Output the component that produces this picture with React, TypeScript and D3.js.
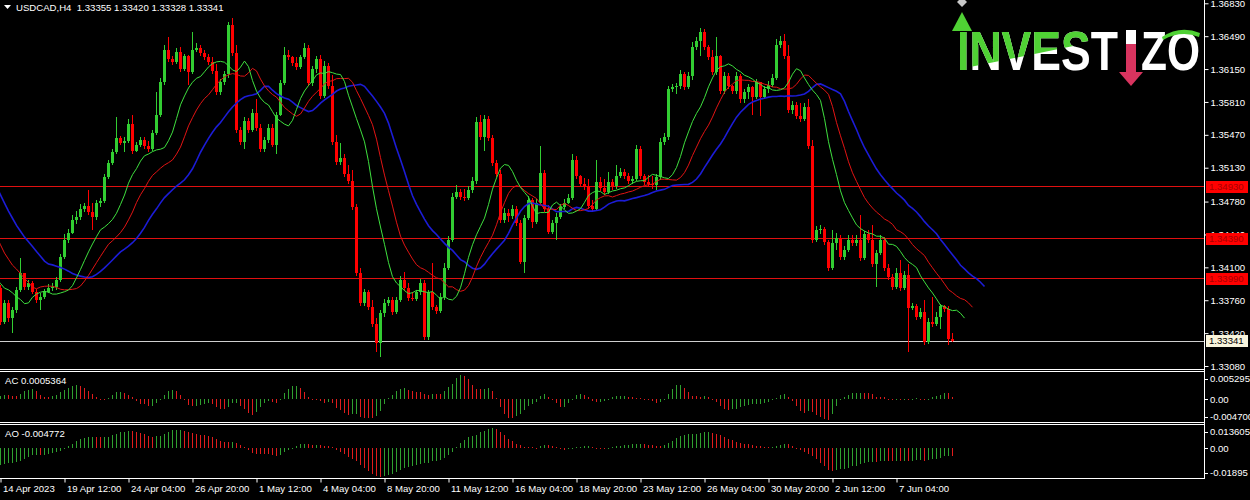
import React, { useEffect, useRef } from "react";
import * as d3 from "d3";

const symbol = "USDCAD,H4";

// H4 candles, left to right (open of a bar = close of the bar before it)
const firstOpen = 1.3389;
const closes = [
  1.3354, 1.3373, 1.3358, 1.3366, 1.3387, 1.3404, 1.339, 1.3394, 1.3385, 1.3376,
  1.3379, 1.3385, 1.3389, 1.339, 1.3397, 1.3421, 1.3438, 1.3446, 1.3459, 1.3462,
  1.347, 1.3473, 1.3467, 1.3462, 1.3477, 1.3479, 1.3503, 1.3518, 1.3529, 1.3544,
  1.3539, 1.3541, 1.3558, 1.353, 1.3537, 1.3542, 1.3535, 1.3532, 1.3549, 1.3568,
  1.3602, 1.3635, 1.3625, 1.3622, 1.3633, 1.3615, 1.3628, 1.3612, 1.3635, 1.3637,
  1.3632, 1.3627, 1.3622, 1.3613, 1.3591, 1.3602, 1.361, 1.3661, 1.3632, 1.3552,
  1.354, 1.3561, 1.3552, 1.357, 1.3554, 1.3532, 1.3542, 1.3554, 1.3537, 1.3568,
  1.3601, 1.363, 1.3627, 1.3621, 1.3617, 1.3627, 1.3637, 1.3601, 1.3615, 1.3625,
  1.3587, 1.3618, 1.3597, 1.354, 1.3519, 1.3523, 1.3506, 1.3499, 1.3472, 1.3404,
  1.3373, 1.3384, 1.3369, 1.3351, 1.3332, 1.3363, 1.3373, 1.3376, 1.3364, 1.3376,
  1.3397, 1.3389, 1.3378, 1.3377, 1.3384, 1.3394, 1.3338, 1.3384, 1.3369, 1.3365,
  1.3379, 1.3409, 1.3438, 1.3483, 1.3488, 1.3483, 1.3482, 1.349, 1.3499, 1.356,
  1.3545, 1.3563, 1.3544, 1.3518, 1.3506, 1.3459, 1.3466, 1.3463, 1.347, 1.3456,
  1.3416, 1.3461, 1.348, 1.3457, 1.3477, 1.3508, 1.347, 1.3447, 1.3456, 1.3462,
  1.3472, 1.3477, 1.3482, 1.3521, 1.3504, 1.3496, 1.3494, 1.3473, 1.347, 1.3498,
  1.3492, 1.3488, 1.3498, 1.3494, 1.3504, 1.3509, 1.3504, 1.3499, 1.3501, 1.3532,
  1.3504, 1.3498, 1.3496, 1.3495, 1.3503, 1.354, 1.3545, 1.3594, 1.3596, 1.3597,
  1.361, 1.3596, 1.3608, 1.3638, 1.3644, 1.3653, 1.3638, 1.3627, 1.3612, 1.3628,
  1.3592, 1.3608, 1.3597, 1.3592, 1.3608, 1.3584, 1.3591, 1.3596, 1.3586, 1.3602,
  1.3586, 1.3594, 1.3599, 1.3606, 1.364, 1.3644, 1.3628, 1.3573, 1.3578, 1.3566,
  1.3563, 1.3576, 1.3535, 1.3438, 1.3449, 1.345, 1.3436, 1.3409, 1.3435, 1.344,
  1.3421, 1.3428, 1.3438, 1.3435, 1.3438, 1.342, 1.3444, 1.3438, 1.3413, 1.3425,
  1.3438, 1.3409, 1.34, 1.339, 1.3404, 1.3389, 1.3402, 1.3368, 1.337, 1.3359,
  1.3364, 1.3333, 1.3354, 1.3351, 1.3359, 1.337, 1.3367, 1.33355, 1.33341,
];
const highs = [
  1.3392, 1.3376, 1.3376, 1.3369, 1.339, 1.342, 1.3401, 1.3397, 1.3396, 1.3388,
  1.3383, 1.3388, 1.3393, 1.3394, 1.34, 1.3424, 1.3444, 1.345, 1.3464, 1.3468,
  1.3475, 1.3477, 1.349, 1.3477, 1.348, 1.3482, 1.3506, 1.3521, 1.3532, 1.3565,
  1.3546, 1.3545, 1.3563, 1.3568, 1.354, 1.3545, 1.3545, 1.3541, 1.3552, 1.3591,
  1.3606, 1.364, 1.3648, 1.3629, 1.3637, 1.3638, 1.3631, 1.363, 1.3653, 1.3642,
  1.364, 1.3635, 1.3631, 1.3627, 1.362, 1.3605, 1.3613, 1.3664, 1.3668, 1.364,
  1.3555, 1.3565, 1.3564, 1.3574, 1.3584, 1.3558, 1.3545, 1.3558, 1.3558, 1.3571,
  1.3604, 1.3638, 1.3635, 1.3629, 1.3627, 1.363, 1.3642, 1.364, 1.3618, 1.3629,
  1.363, 1.3623, 1.3621, 1.3609, 1.3547, 1.3539, 1.3527, 1.3516, 1.3511, 1.3475,
  1.3409, 1.3388, 1.3387, 1.3376, 1.3358, 1.3366, 1.3377, 1.3379, 1.3379, 1.3379,
  1.3401, 1.3405, 1.3394, 1.3385, 1.3387, 1.3398, 1.3397, 1.3387, 1.3414, 1.3371,
  1.3383, 1.3414, 1.3442, 1.3487, 1.3495, 1.3491, 1.3491, 1.3494, 1.3503, 1.3565,
  1.3568, 1.3567, 1.3566, 1.3547, 1.3521, 1.3511, 1.3471, 1.347, 1.3474, 1.3473,
  1.3459, 1.3464, 1.3484, 1.3482, 1.3481, 1.3535, 1.3511, 1.3474, 1.3459, 1.3466,
  1.3476, 1.3481, 1.3486, 1.3527, 1.3525, 1.3505, 1.3502, 1.3501, 1.348, 1.3521,
  1.3503, 1.3501, 1.3509, 1.3501, 1.3516, 1.3513, 1.3512, 1.3508, 1.3504, 1.3536,
  1.3535, 1.3507, 1.3505, 1.3504, 1.3507, 1.3544, 1.3549, 1.3598, 1.36, 1.3601,
  1.3614, 1.3612, 1.3612, 1.3643, 1.3648, 1.3657, 1.3656, 1.364, 1.3635, 1.3648,
  1.363, 1.3612, 1.3611, 1.3599, 1.3612, 1.361, 1.3594, 1.36, 1.3598, 1.3605,
  1.3602, 1.3598, 1.3603, 1.361, 1.3646, 1.3649, 1.3651, 1.364, 1.3582, 1.3581,
  1.358, 1.358, 1.3584, 1.3542, 1.3453, 1.3454, 1.3452, 1.3438, 1.3449, 1.3445,
  1.3443, 1.3432, 1.3443, 1.3443, 1.3443, 1.3464, 1.3448, 1.3449, 1.3454, 1.3428,
  1.3443, 1.3441, 1.3413, 1.3403, 1.3409, 1.3418, 1.3406, 1.3413, 1.3373, 1.3372,
  1.3368, 1.3376, 1.3358, 1.3379, 1.3364, 1.3372, 1.3371, 1.337, 1.3342,
];
const lows = [
  1.335, 1.3351, 1.3354, 1.3342, 1.3363, 1.3385, 1.3387, 1.3387, 1.3382, 1.3373,
  1.3366, 1.3377, 1.3383, 1.3386, 1.3387, 1.3395, 1.3419, 1.3435, 1.3444, 1.3455,
  1.3459, 1.3467, 1.3464, 1.3449, 1.3459, 1.3472, 1.3477, 1.3501, 1.3516, 1.3527,
  1.3536, 1.3529, 1.3539, 1.3527, 1.3529, 1.3534, 1.3532, 1.3529, 1.353, 1.3547,
  1.3565, 1.3599, 1.3622, 1.3619, 1.362, 1.3612, 1.3613, 1.3599, 1.361, 1.3633,
  1.3629, 1.3624, 1.3619, 1.361, 1.3588, 1.3588, 1.3599, 1.3606, 1.3629, 1.3549,
  1.3536, 1.3532, 1.3549, 1.355, 1.3551, 1.3529, 1.3529, 1.3539, 1.3534, 1.3527,
  1.3566, 1.3599, 1.3624, 1.3618, 1.3614, 1.3615, 1.3625, 1.3598, 1.3598, 1.3611,
  1.3584, 1.3585, 1.3594, 1.3537, 1.3516, 1.3516, 1.3503, 1.3496, 1.3469, 1.3401,
  1.337, 1.337, 1.3366, 1.3348, 1.3322, 1.3317, 1.3359, 1.337, 1.3361, 1.3362,
  1.3374, 1.3386, 1.3375, 1.3375, 1.3375, 1.3381, 1.3335, 1.3335, 1.3366, 1.3362,
  1.3363, 1.3376, 1.3407, 1.3436, 1.3481, 1.348, 1.3479, 1.348, 1.3487, 1.3496,
  1.3542, 1.353, 1.3541, 1.3515, 1.3503, 1.3456, 1.3456, 1.3457, 1.346, 1.3453,
  1.3413, 1.3404, 1.3459, 1.3451, 1.3455, 1.3475, 1.3467, 1.3444, 1.3444, 1.3438,
  1.346, 1.347, 1.3475, 1.348, 1.3501, 1.3493, 1.349, 1.347, 1.3467, 1.3468,
  1.3489, 1.3485, 1.3486, 1.349, 1.3491, 1.3502, 1.3501, 1.3496, 1.3496, 1.3499,
  1.3501, 1.3495, 1.3493, 1.3491, 1.349, 1.35, 1.3537, 1.3542, 1.3591, 1.3589,
  1.3594, 1.3593, 1.3594, 1.3604, 1.3635, 1.3628, 1.3635, 1.3624, 1.3609, 1.3609,
  1.3589, 1.3589, 1.3594, 1.3589, 1.3589, 1.358, 1.358, 1.3584, 1.3568, 1.3584,
  1.3566, 1.3584, 1.359, 1.3596, 1.3604, 1.3637, 1.3625, 1.357, 1.3569, 1.3563,
  1.356, 1.3561, 1.3532, 1.3435, 1.3436, 1.3444, 1.3433, 1.3406, 1.3407, 1.3428,
  1.3418, 1.3418, 1.3426, 1.3432, 1.3432, 1.3417, 1.3418, 1.3435, 1.341, 1.339,
  1.3423, 1.3406, 1.3397, 1.3387, 1.3388, 1.3386, 1.3387, 1.3322, 1.3366, 1.3356,
  1.3357, 1.333, 1.3331, 1.3348, 1.3349, 1.3346, 1.3364, 1.333, 1.33328,
];

// median prices of the bars just left of the window, estimated from where
// the Alligator lines and the AO start at the left edge
const earlierMedians = [
  1.3528, 1.3535, 1.3541, 1.3533, 1.3526, 1.3531, 1.3538, 1.3544, 1.3537, 1.3529,
  1.3524, 1.353, 1.3536, 1.3528, 1.3521, 1.3527, 1.3533, 1.3526, 1.3518, 1.3505,
  1.3488, 1.347, 1.3452, 1.3431, 1.3412, 1.3395, 1.3382, 1.3376, 1.3368, 1.3372,
  1.3365, 1.3374, 1.3369, 1.338,
];

const priceTicks = [
  1.3683, 1.3649, 1.3615, 1.3581, 1.3547, 1.3513, 1.3478, 1.3444, 1.341, 1.3376, 1.3342, 1.3308,
];
const levels = [1.3493, 1.3439, 1.3399];
const acTicks = [0.0052951, 0, -0.0047];
const acTickText = ["0.0052951", "0.00", "-0.004700"];
const aoTicks = [0.013605, 0, -0.01895];
const aoTickText = ["0.013605", "0.00", "-0.01895"];
const acLabel = "AC 0.0005364";
const aoLabel = "AO -0.004772";
const timeLabels = [
  "14 Apr 2023", "19 Apr 12:00", "24 Apr 04:00", "26 Apr 20:00", "1 May 12:00",
  "4 May 04:00", "8 May 20:00", "11 May 12:00", "16 May 04:00", "18 May 20:00",
  "23 May 12:00", "26 May 04:00", "30 May 20:00", "2 Jun 12:00", "7 Jun 04:00",
];
const barsPerLabel = 16;

const FONT = "Tahoma, 'Liberation Sans', Arial, sans-serif";
const UP = "#32cd32";
const DOWN = "#ff0000";
const LOGO_GREEN = "#4fd134";
const LOGO_PINK = "#d8345f";

const sma = (arr: number[], n: number) =>
  arr.map((_, i) => d3.mean(arr.slice(Math.max(0, i - n + 1), i + 1)) as number);

const smma = (arr: number[], n: number) => {
  const out: number[] = [];
  arr.forEach((v, i) => {
    if (i < n) out.push(d3.mean(arr.slice(0, i + 1)) as number);
    else out.push((out[i - 1] * (n - 1) + v) / n);
  });
  return out;
};

// snap a 1px horizontal line onto an even pixel row
const evenRow = (v: number) => 2 * Math.round((v - 0.5) / 2) + 0.5;

const App: React.FC = () => {
  const ref = useRef<SVGSVGElement | null>(null);

  useEffect(() => {
    if (!ref.current) return;
    const svg = d3.select(ref.current);
    svg.selectAll("*").remove();

    const W = 1204; // right price scale line
    const n = closes.length;
    const off = earlierMedians.length;
    const opens = closes.map((c, i) => (i === 0 ? firstOpen : closes[i - 1]));
    const bars = d3.range(n).map((i) => ({
      i,
      o: opens[i],
      c: closes[i],
      h: Math.max(highs[i], opens[i], closes[i]),
      l: Math.min(lows[i], opens[i], closes[i]),
    }));
    const medians = [...earlierMedians, ...bars.map((b) => (b.h + b.l) / 2)];

    const x = d3.scaleLinear().domain([0, 1]).range([0.5, 4.5]);
    const y = d3.scaleLinear().domain([1.33049, 1.36864]).range([369, 0]);
    const yAC = d3.scaleLinear().domain([-0.0047, 0.0052951]).range([423, 373]);
    const yAO = d3.scaleLinear().domain([-0.01895, 0.013605]).range([479, 426]);

    svg.append("rect").attr("width", 1250).attr("height", 500).attr("fill", "#000");

    const defs = svg.append("defs");
    const clip = (id: string, yy: number, h: number) =>
      defs.append("clipPath").attr("id", id).append("rect").attr("x", 0).attr("y", yy).attr("width", W).attr("height", h);
    clip("clipMain", 0, 369);
    clip("clipAC", 372, 50);
    clip("clipAO", 425, 53);
    defs
      .append("clipPath")
      .attr("id", "logoGreen")
      .append("polygon")
      .attr("points", "940,0 1088,0 1088,43 970,67 970,76 940,76");

    // logo
    const logo = svg.append("g").attr("font-family", "'Liberation Sans', Arial, sans-serif").attr("font-weight", "bold");
    const logoText = (fill: string, clipId?: string) => {
      const t = logo.append("g");
      if (clipId) t.attr("clip-path", `url(#${clipId})`);
      t.append("text").attr("x", 957).attr("y", 70).attr("font-size", 56).attr("textLength", 161)
        .attr("lengthAdjust", "spacingAndGlyphs").attr("fill", fill).text("INVEST");
      t.append("text").attr("x", 1141).attr("y", 70).attr("font-size", 56).attr("textLength", 59)
        .attr("lengthAdjust", "spacingAndGlyphs").attr("fill", fill).text("ZO");
    };
    logoText("#ffffff");
    logoText(LOGO_GREEN, "logoGreen");
    logo.append("polygon").attr("points", "952,31 972,31 962,12").attr("fill", LOGO_GREEN);
    logo.append("path").attr("d", "M1162,37 Q1180,25 1200,33 L1199,37 Q1181,30 1163,40 Z").attr("fill", LOGO_GREEN);
    logo.append("rect").attr("x", 1126).attr("y", 30).attr("width", 10).attr("height", 14).attr("fill", "#ffffff");
    logo.append("rect").attr("x", 1126).attr("y", 44).attr("width", 10).attr("height", 30).attr("fill", LOGO_PINK);
    logo.append("polygon").attr("points", "1119,72 1143,72 1131,86").attr("fill", LOGO_PINK);
    logo.append("polygon").attr("points", "957,2 962,-3 967,2 962,7").attr("fill", "#c8c8c8");

    const main = svg.append("g").attr("clip-path", "url(#clipMain)");

    // horizontal levels and bid line
    main.selectAll("line.level").data(levels).join("line").attr("class", "level")
      .attr("x1", 0).attr("x2", W)
      .attr("y1", (d) => evenRow(y(d))).attr("y2", (d) => evenRow(y(d)))
      .attr("stroke", "#e01010").attr("stroke-width", 1).attr("shape-rendering", "crispEdges");
    const bid = closes[n - 1];
    main.append("line").attr("x1", 0).attr("x2", W)
      .attr("y1", Math.round(y(bid)) + 0.5).attr("y2", Math.round(y(bid)) + 0.5)
      .attr("stroke", "#cfcfcf").attr("stroke-width", 1).attr("shape-rendering", "crispEdges");

    // candles
    const col = (d) => (d.c >= d.o ? UP : DOWN);
    const cg = main.selectAll("g.candle").data(bars).join("g").attr("class", "candle")
      .attr("shape-rendering", "crispEdges");
    cg.append("line")
      .attr("x1", (d) => x(d.i)).attr("x2", (d) => x(d.i))
      .attr("y1", (d) => y(d.h)).attr("y2", (d) => y(d.l))
      .attr("stroke", col).attr("stroke-width", 1);
    cg.append("rect")
      .attr("x", (d) => x(d.i) - 1.5).attr("width", 3)
      .attr("y", (d) => y(Math.max(d.o, d.c)))
      .attr("height", (d) => Math.max(1, y(Math.min(d.o, d.c)) - y(Math.max(d.o, d.c))))
      .attr("fill", col);

    // Alligator: jaw, teeth, lips
    const line = d3.line<number[]>().x((d) => x(d[0])).y((d) => y(d[1]));
    [
      { p: 13, shift: 8, color: "#1c1cd6", w: 1.6 },
      { p: 8, shift: 5, color: "#e21414", w: 1 },
      { p: 5, shift: 3, color: "#3fe03f", w: 1 },
    ].forEach((s) => {
      const pts = smma(medians, s.p)
        .map((v, j) => [j - off + s.shift, v])
        .filter((p) => p[0] >= -1);
      main.append("path").attr("d", line(pts)).attr("fill", "none")
        .attr("stroke", s.color).attr("stroke-width", s.w);
    });

    // Awesome / Accelerator oscillators
    const sma5 = sma(medians, 5);
    const sma34 = sma(medians, 34);
    const ao = medians.map((_, i) => sma5[i] - sma34[i]);
    const aoAvg = sma(ao, 5);
    const ac = ao.map((v, i) => v - aoAvg[i]);
    const histogram = (vals: number[], sc, clipId: string) => {
      const g = svg.append("g").attr("clip-path", `url(#${clipId})`).attr("shape-rendering", "crispEdges");
      g.selectAll("rect").data(d3.range(n)).join("rect")
        .attr("x", (i) => x(i) - 0.5).attr("width", 1)
        .attr("y", (i) => Math.min(sc(0), sc(vals[i + off])))
        .attr("height", (i) => Math.max(1, Math.abs(sc(vals[i + off]) - sc(0))))
        .attr("fill", (i) => (vals[i + off] > vals[i + off - 1] ? "#2f9f2f" : "#e01c1c"));
    };
    histogram(ac, yAC, "clipAC");
    histogram(ao, yAO, "clipAO");

    // frames
    const frame = svg.append("g").attr("stroke", "#ffffff").attr("stroke-width", 1).attr("shape-rendering", "crispEdges");
    [369.5, 371.5, 422.5, 424.5, 478.5].forEach((yy) =>
      frame.append("line").attr("x1", 0).attr("x2", W + 0.5).attr("y1", yy).attr("y2", yy)
    );
    frame.append("line").attr("x1", W + 0.5).attr("x2", W + 0.5).attr("y1", 0).attr("y2", 479);

    // price scale
    const axisMain = svg.append("g").attr("transform", `translate(${W + 0.5},0)`)
      .call(d3.axisRight(y).tickValues(priceTicks).tickFormat(d3.format(".5f")).tickSize(4).tickPadding(2));
    axisMain.select(".domain").remove();
    axisMain.attr("font-family", FONT).attr("font-size", 9.6);
    axisMain.selectAll("line").attr("stroke", "#fff");
    axisMain.selectAll("text").attr("fill", "#fff");

    // level and bid labels
    const tag = (v: number, yy: number, bg: string, fg: string) => {
      svg.append("rect").attr("x", 1206).attr("y", yy - 6).attr("width", 42).attr("height", 12).attr("fill", bg);
      svg.append("text").attr("x", 1209).attr("y", yy).attr("dy", "0.35em").attr("font-family", FONT)
        .attr("font-size", 9.6).attr("fill", fg).text(d3.format(".5f")(v));
    };
    levels.forEach((v) => tag(v, Math.round(evenRow(y(v))), "#ff0000", "#a80000"));
    tag(bid, Math.round(y(bid)), "#f8f4dc", "#000000");

    // oscillator scales
    const oscAxis = (ticks: number[], texts: string[], sc) => {
      ticks.forEach((t, i) => {
        const yy = i === 0 ? sc(t) + 6 : i === ticks.length - 1 ? sc(t) - 6 : sc(t);
        svg.append("line").attr("x1", W).attr("x2", W + 4).attr("y1", Math.round(yy) + 0.5)
          .attr("y2", Math.round(yy) + 0.5).attr("stroke", "#fff");
        svg.append("text").attr("x", W + 6).attr("y", yy).attr("dy", "0.35em").attr("font-family", FONT)
          .attr("font-size", 9.6).attr("fill", "#fff").text(texts[i]);
      });
    };
    oscAxis(acTicks, acTickText, yAC);
    oscAxis(aoTicks, aoTickText, yAO);

    // time scale
    const axisTime = svg.append("g").attr("transform", "translate(0,478.5)")
      .call(d3.axisBottom(x).tickValues(d3.range(0, n, barsPerLabel))
        .tickFormat((d, i) => timeLabels[i]).tickSize(4).tickPadding(3));
    axisTime.select(".domain").remove();
    axisTime.attr("font-family", FONT).attr("font-size", 9.6);
    axisTime.selectAll("line").attr("stroke", "#fff");
    axisTime.selectAll("text").attr("fill", "#fff").attr("text-anchor", "start").attr("x", 2);

    // labels
    const f5 = d3.format(".5f");
    svg.append("polygon").attr("points", "4,5 11,5 7.5,9").attr("fill", "#fff");
    svg.append("text").attr("x", 16).attr("y", 11).attr("font-family", FONT).attr("font-size", 9.6).attr("fill", "#fff")
      .attr("xml:space", "preserve")
      .text(`${symbol}  ${f5(bars[n - 1].o)} ${f5(bars[n - 1].h)} ${f5(bars[n - 1].l)} ${f5(bars[n - 1].c)}`);
    svg.append("text").attr("x", 5).attr("y", 384).attr("font-family", FONT).attr("font-size", 9.6).attr("fill", "#fff").text(acLabel);
    svg.append("text").attr("x", 5).attr("y", 437).attr("font-family", FONT).attr("font-size", 9.6).attr("fill", "#fff").text(aoLabel);
  }, []);

  return (
    <div style={{ width: 1250, height: 500, background: "#000" }}>
      <style>{"body{margin:0;background:#000;}"}</style>
      <svg ref={ref} width={1250} height={500} style={{ display: "block" }} />
    </div>
  );
};

export default App;
